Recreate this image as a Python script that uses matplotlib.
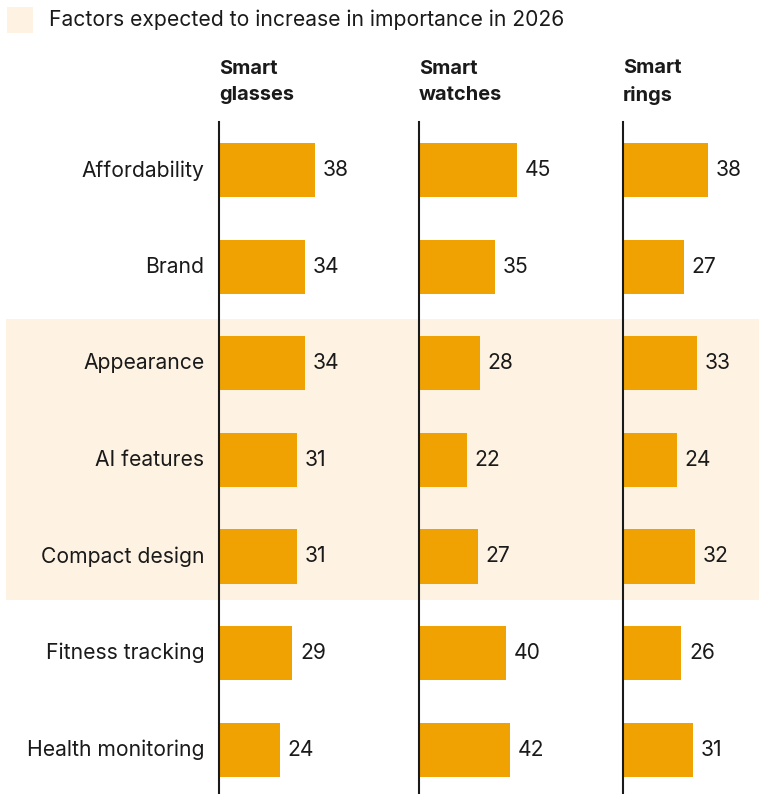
import matplotlib
matplotlib.use("Agg")
import matplotlib.pyplot as plt
from matplotlib.patches import Rectangle
from matplotlib.transforms import blended_transform_factory

plt.rcParams['font.family'] = ['Inter', 'DejaVu Sans']

factors = ["Affordability", "Brand", "Appearance", "AI features",
           "Compact design", "Fitness tracking", "Health monitoring"]
devices = ["Smart\nglasses", "Smart\nwatches", "Smart\nrings"]
glasses = [38, 34, 34, 31, 31, 29, 24]
watches = [45, 35, 28, 22, 27, 40, 42]
rings = [38, 27, 33, 24, 32, 26, 31]
highlighted = ["Appearance", "AI features", "Compact design"]
legend_label = "Factors expected to increase in importance in 2026"

BAR = "#F0A202"
BAND = "#FEF3E2"
TEXT = "#1a1a1a"
FS = 15.2

W, H = 759, 794
fig = plt.figure(figsize=(W / 100, H / 100), dpi=100)

# panel geometry in pixels: (left, right, xmax)
panels = [(219, 400, 71.5), (419, 603, 84.5), (623, 759, 60.5)]
top_px, bot_px = 122, 794
series = [glasses, watches, rings]

axes = []
for (l, r, xmax), vals, name in zip(panels, series, devices):
    ax = fig.add_axes([l / W, 1 - bot_px / H, (r - l) / W, (bot_px - top_px) / H])
    ax.set_facecolor("none")
    ypos = list(range(len(factors)))
    ax.barh(ypos, vals, height=0.56, color=BAR, zorder=2)
    for y, v in zip(ypos, vals):
        ax.annotate(f"{v}", (v, y), xytext=(5.5, 0), textcoords="offset points",
                    va="center", ha="left", fontsize=FS, color=TEXT)
    ax.set_xlim(0, xmax)
    ax.set_ylim(len(factors) - 0.54, -0.50)
    for s in ["top", "right", "bottom"]:
        ax.spines[s].set_visible(False)
    ax.spines["left"].set_linewidth(1.5)
    ax.spines["left"].set_color("#1a1a1a")
    ax.set_xticks([])
    ax.set_yticks([])
    fig.text(l / W, 1 - 82 / H, name, ha="left", va="center",
             fontsize=14.4, fontweight="bold", color=TEXT, linespacing=1.62)
    axes.append(ax)

ax0 = axes[0]
# category labels to the left of the first panel
lab_tr = blended_transform_factory(fig.transFigure, ax0.transData)
for y, f in enumerate(factors):
    ax0.text(204.5 / W, y, f, transform=lab_tr, ha="right", va="center",
             fontsize=FS, color=TEXT)

# highlight band behind the highlighted rows
idx = [factors.index(h) for h in highlighted]
band = Rectangle((6 / W, min(idx) - 0.455), (W - 6) / W,
                 (max(idx) - min(idx)) + 0.91, transform=lab_tr,
                 facecolor=BAND, edgecolor="none", zorder=-5)
fig.patches.append(band)

# legend
fig.patches.append(Rectangle((7 / W, 1 - 33 / H), 26 / W, 26 / H,
                             transform=fig.transFigure, facecolor=BAND,
                             edgecolor="none"))
fig.text(49 / W, 1 - 20 / H, legend_label, ha="left", va="center",
         fontsize=FS, color=TEXT)

fig.savefig("out.png", dpi=100, facecolor="white")
